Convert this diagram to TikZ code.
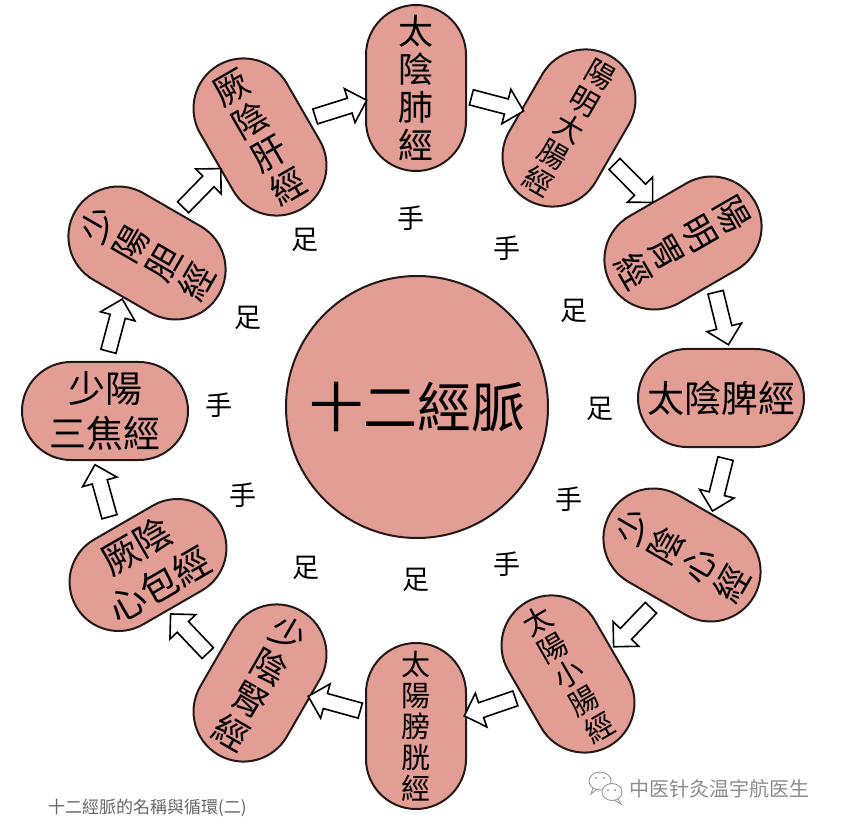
\documentclass[tikz,border=0pt]{standalone}
\usepackage{fontspec}
\newfontfamily\cjk{Noto Sans CJK TC}
\newfontfamily\cjksc{Noto Sans CJK SC}
\usetikzlibrary{shapes.arrows,calc}
\definecolor{capfill}{RGB}{226,158,148}
\definecolor{capline}{RGB}{35,25,25}
\newcommand\flowarrow[3]{\path ($(center)!#3!(#1)$) -- ($(center)!#3!(#2)$) node[midway, harrow] {};}
\begin{document}
\begin{tikzpicture}[x=1pt,y=-1pt,
  vcap/.style={draw=capline, fill=capfill, line width=2pt, rounded corners=50pt,
    minimum width=100pt, minimum height=166pt, inner sep=0pt, align=center,
    font=\cjk\fontsize{35}{38}\selectfont},
  vcapfive/.style={vcap, font=\cjk\fontsize{29}{31}\selectfont},
  hcap/.style={draw=capline, fill=capfill, line width=2pt, rounded corners=49pt,
    minimum width=166pt, minimum height=98pt, inner sep=0pt, align=center,
    font=\cjk\fontsize{37}{45}\selectfont},
  limb/.style={font=\cjk\fontsize{27}{27}\selectfont, inner sep=0pt},
  harrow/.style={single arrow, draw=black, fill=white, line width=1.6pt,
    minimum height=54pt, inner xsep=0pt, inner ysep=7pt,
    single arrow head extend=10pt, sloped, allow upside down}
]
\fill[white] (0,0) rectangle (844,826);
\useasboundingbox (0,0) rectangle (844,826);

% centre
\node[circle, draw=capline, fill=capfill, line width=2pt, minimum size=262pt,
  inner sep=0pt, font=\cjk\fontsize{54}{54}\selectfont] (center) at (417,407) {十二經脈};

% twelve channels
\node[vcap] (fei) at (416,88) {太\\陰\\肺\\經};
\node[vcapfive, rotate=-30] (dachang) at (569,128) {陽\\明\\大\\腸\\經};
\node[vcap, rotate=-60] (wei) at (683,243) {陽\\明\\胃\\經};
\node[hcap] (pi) at (721,398) {太陰脾經};
\node[vcap, rotate=60] (xin) at (682,555) {少\\陰\\心\\經};
\node[vcapfive, rotate=30] (xiaochang) at (568,674) {太\\陽\\小\\腸\\經};
\node[vcapfive] (pangguang) at (416,726) {太\\陽\\膀\\胱\\經};
\node[vcap, rotate=-30] (shen) at (260,683) {少\\陰\\腎\\經};
\node[hcap, rotate=30] (xinbao) at (148,565) {厥陰\\心包經};
\node[hcap] (sanjiao) at (105,411) {少陽\\三焦經};
\node[vcap, rotate=60] (dan) at (147,253) {少\\陽\\胆\\經};
\node[vcap, rotate=30] (gan) at (260,137) {厥\\陰\\肝\\經};

% hollow flow arrows
\flowarrow{gan}{fei}{1.01}
\flowarrow{fei}{dachang}{1.016}
\flowarrow{dachang}{wei}{1.023}
\flowarrow{wei}{pi}{1.067}
\flowarrow{pi}{xin}{1.065}
\flowarrow{xin}{xiaochang}{1.048}
\flowarrow{xiaochang}{pangguang}{1.02}
\flowarrow{pangguang}{shen}{1.0}
\flowarrow{shen}{xinbao}{1.057}
\flowarrow{xinbao}{sanjiao}{1.08}
\flowarrow{sanjiao}{dan}{1.04}
\flowarrow{dan}{gan}{1.02}

% hand / foot labels
\node[limb] (h1) at (411,218) {手};
\node[limb] (h2) at (507,248) {手};
\node[limb] (f1) at (305,240) {足};
\node[limb] (f2) at (248,318) {足};
\node[limb] (f3) at (574,311) {足};
\node[limb] (h3) at (219,405) {手};
\node[limb] (f4) at (600,409) {足};
\node[limb] (h4) at (243,495) {手};
\node[limb] (h5) at (569,499) {手};
\node[limb] (f5) at (306,568) {足};
\node[limb] (h6) at (507,564) {手};
\node[limb] (f6) at (416,580) {足};

% caption
\node[anchor=west, inner sep=0pt, text=black!60,
  font=\cjk\fontsize{17}{17}\selectfont] (caption) at (48,808) {十二經脈的名稱與循環(二)};

% watermark
\node[anchor=west, inner sep=0pt, text=black!45,
  font=\cjksc\fontsize{20}{20}\selectfont] (mark) at (629,789) {中医针灸温宇航医生};
\draw[black!40, line width=0.9pt, fill=white] (600,781) ellipse (11 and 9);
\draw[black!40, line width=0.9pt] (593,788) -- (591,794) -- (597,789);
\draw[black!40, line width=0.9pt, fill=white] (612,792) ellipse (10 and 8.5);
\draw[black!40, line width=0.9pt] (618,799) -- (621,804) -- (614,800);
\fill[black!40] (596,778) circle (1.2) (604,778) circle (1.2)
  (608,790) circle (1.1) (615,790) circle (1.1);
\end{tikzpicture}
\end{document}
